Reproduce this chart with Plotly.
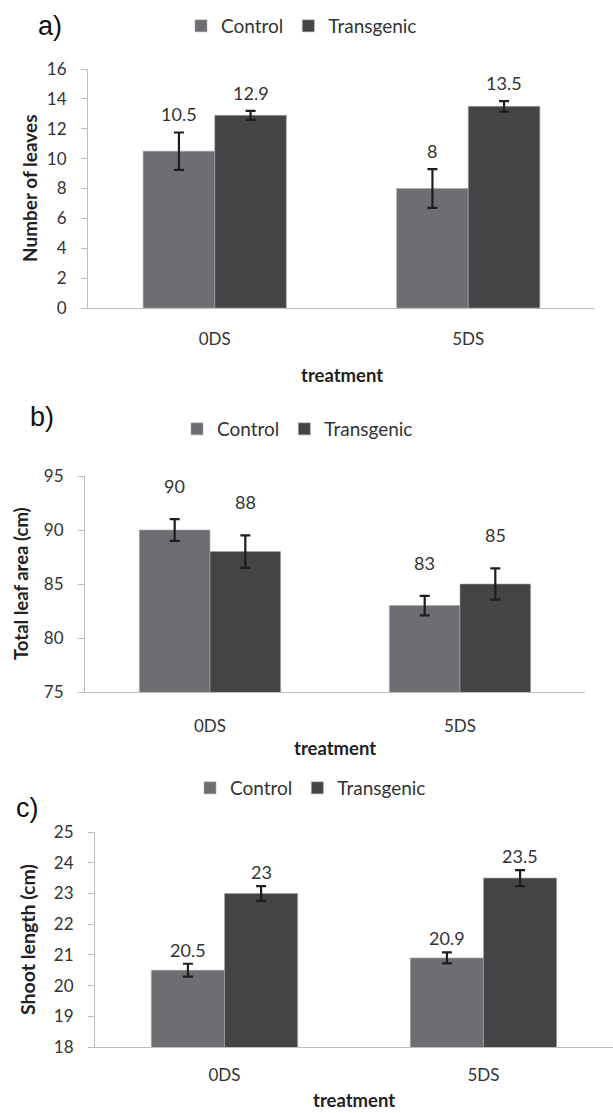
import plotly.graph_objects as go

W, H = 613, 1113

categories = ["0DS", "5DS"]
series_names = ["Control", "Transgenic"]

# panel a: Number of leaves
a_control = [10.5, 8.0]
a_transgenic = [12.9, 13.5]
a_control_err = [1.25, 1.3]
a_transgenic_err = [0.3, 0.35]
a_labels_control = ["10.5", "8"]
a_labels_transgenic = ["12.9", "13.5"]

# panel b: Total leaf area
b_control = [90, 83]
b_transgenic = [88, 85]
b_control_err = [1.0, 0.9]
b_transgenic_err = [1.5, 1.45]
b_labels_control = ["90", "83"]
b_labels_transgenic = ["88", "85"]

# panel c: Shoot length
c_control = [20.5, 20.9]
c_transgenic = [23.0, 23.5]
c_control_err = [0.21, 0.18]
c_transgenic_err = [0.24, 0.26]
c_labels_control = ["20.5", "20.9"]
c_labels_transgenic = ["23", "23.5"]

COL_CTRL = "#6d6e71"
COL_TRANS = "#434446"
FONT = "Lato"
BARGAP = 0.435


def px_x(p):
    return p / W


def px_y(p):
    return 1 - p / H


panels = [
    dict(key="", ctrl=a_control, trans=a_transgenic, ce=a_control_err, te=a_transgenic_err,
         lc=a_labels_control, lt=a_labels_transgenic,
         xd=[88, 595], yd=[69, 308], yr=[0, 16], dt=2, ytitle="Number of leaves", ytsize=19,
         ytx=29.5, shift=5, leg=(181, 26), tag="a)", tagpos=(36, 26), ttl_y=375, xstand=16),
    dict(key="2", ctrl=b_control, trans=b_transgenic, ce=b_control_err, te=b_transgenic_err,
         lc=b_labels_control, lt=b_labels_transgenic,
         xd=[85, 585], yd=[476, 692], yr=[75, 95], dt=5, ytitle="Total leaf area (cm)", ytsize=18.5,
         ytx=21, shift=20, leg=(177, 429), tag="b)", tagpos=(28, 417), ttl_y=748, xstand=19),
    dict(key="3", ctrl=c_control, trans=c_transgenic, ce=c_control_err, te=c_transgenic_err,
         lc=c_labels_control, lt=c_labels_transgenic,
         xd=[95, 613], yd=[832, 1047], yr=[18, 25], dt=1, ytitle="Shoot length (cm)", ytsize=19.5,
         ytx=27.5, shift=1, leg=(190, 788), tag="c)", tagpos=(14, 808), ttl_y=1100, xstand=13),
]

fig = go.Figure()
annotations = []
layout = {}
bar_w = (1 - BARGAP) / 2

for p in panels:
    k = p["key"]
    xa, ya = "x" + k, "y" + k
    legname = "legend" + k
    groups = [
        ("Control", p["ctrl"], p["ce"], COL_CTRL, p["lc"], -bar_w / 2),
        ("Transgenic", p["trans"], p["te"], COL_TRANS, p["lt"], bar_w / 2),
    ]
    for name, vals, errs, col, labels, off in groups:
        fig.add_trace(go.Bar(
            x=categories, y=vals, name=name, xaxis=xa, yaxis=ya, legend=legname,
            marker=dict(color=col, line=dict(color="#a8a8a8", width=0.6)),
            error_y=dict(type="data", array=errs, visible=True, color="#1e1e1e",
                         thickness=2.2, width=5),
            offsetgroup=name,
        ))
        # value labels placed above the error bars
        for i, cat in enumerate(categories):
            annotations.append(dict(
                x=i + off, y=vals[i] + errs[i], xref=xa, yref=ya, text=labels[i],
                showarrow=False, yanchor="bottom", yshift=p["shift"],
                font=dict(family=FONT, size=18, color="#333333"),
            ))
    layout["xaxis" + k] = dict(
        domain=[px_x(p["xd"][0]), min(1.0, px_x(p["xd"][1]))], anchor=ya,
        showline=True, linecolor="#bdbdbd", linewidth=1, ticks="", ticklabelstandoff=p["xstand"],
        tickfont=dict(family=FONT, size=17, color="#333333"), showgrid=False,
    )
    layout["yaxis" + k] = dict(
        domain=[px_y(p["yd"][1]), px_y(p["yd"][0])], anchor=xa,
        range=p["yr"], dtick=p["dt"], showline=True, linecolor="#bdbdbd", linewidth=1,
        ticks="outside", ticklen=6, tickcolor="#bdbdbd", ticklabelstandoff=11,
        tickfont=dict(family=FONT, size=17, color="#333333"), showgrid=False, zeroline=False,
    )
    layout[legname] = dict(
        orientation="h", x=px_x(p["leg"][0]), y=px_y(p["leg"][1]), xanchor="left",
        yanchor="middle", font=dict(family=FONT, size=19, color="#333333"),
        itemwidth=30, bgcolor="rgba(0,0,0,0)", traceorder="normal",
    )
    annotations.append(dict(
        x=px_x(p["ytx"]), y=0.5, xref="paper", yref=ya + " domain", text="<b>%s</b>" % p["ytitle"],
        textangle=-90, showarrow=False, xanchor="center", yanchor="middle",
        font=dict(family=FONT, size=p["ytsize"], color="#222222"),
    ))
    annotations.append(dict(
        x=0.5, y=px_y(p["ttl_y"]), xref=xa + " domain", yref="paper", text="<b>treatment</b>",
        showarrow=False, xanchor="center", yanchor="middle",
        font=dict(family=FONT, size=18.5, color="#222222"),
    ))
    annotations.append(dict(
        x=px_x(p["tagpos"][0]), y=px_y(p["tagpos"][1]), xref="paper", yref="paper", text=p["tag"],
        showarrow=False, xanchor="left", yanchor="middle",
        font=dict(family="Liberation Sans", size=27, color="#111111"),
    ))

fig.update_layout(
    width=W, height=H, margin=dict(l=0, r=0, t=0, b=0, autoexpand=False),
    paper_bgcolor="white", plot_bgcolor="white",
    barmode="group", bargap=BARGAP, bargroupgap=0,
    showlegend=True, annotations=annotations,
    **layout,
)

fig.write_html("out.html", config={"displayModeBar": False},
               post_script="document.body.style.margin='0px';")
